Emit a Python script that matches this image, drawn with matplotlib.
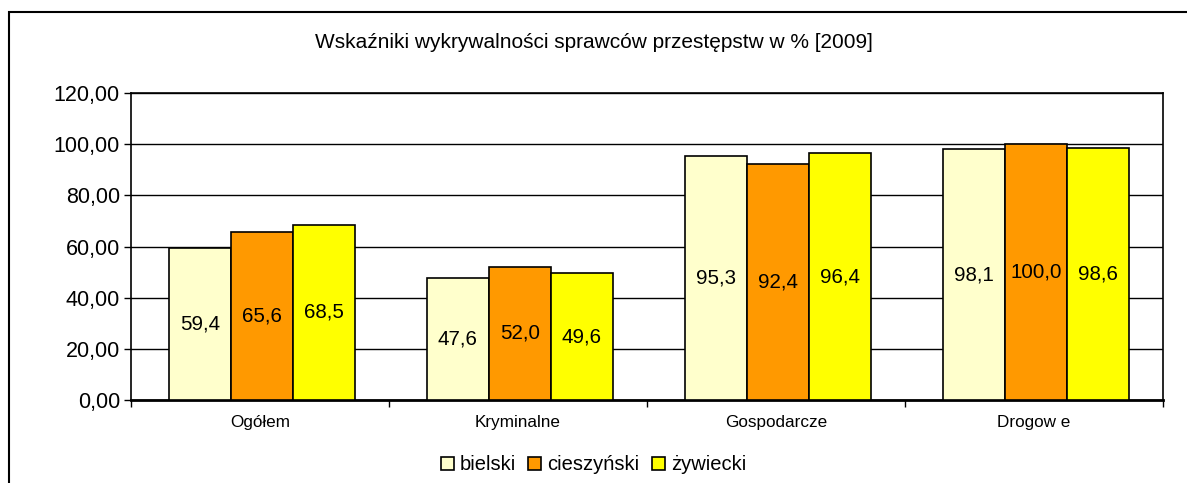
import matplotlib
matplotlib.use("Agg")
import matplotlib.pyplot as plt
import numpy as np
from matplotlib.patches import Rectangle

plt.rcParams['font.family'] = ['Liberation Sans', 'DejaVu Sans']

categories = ["Ogółem", "Kryminalne", "Gospodarcze", "Drogow e"]
series_names = ["bielski", "cieszyński", "żywiecki"]
bielski = [59.4, 47.6, 95.3, 98.1]
cieszynski = [65.6, 52.0, 92.4, 100.0]
zywiecki = [68.5, 49.6, 96.4, 98.6]
colors = ["#FFFFCC", "#FF9900", "#FFFF00"]
yticks = [0, 20, 40, 60, 80, 100, 120]
title = "Wskaźniki wykrywalności sprawców przestępstw w % [2009]"

W, H = 1187, 483
fig = plt.figure(figsize=(W/100, H/100), dpi=100)
# outer frame
fig.patches.append(Rectangle((9.5/W, -0.1), 1.2, 1 - 11.5/H + 0.1, transform=fig.transFigure,
                             fill=False, edgecolor='black', linewidth=1.5, zorder=0))

ax = fig.add_axes([131/W, 1 - 400/H, (1163-131)/W, (400-93)/H])
x = np.arange(len(categories))
bw = 0.24
data = [bielski, cieszynski, zywiecki]
for i, (vals, c, name) in enumerate(zip(data, colors, series_names)):
    pos = x + (i - 1) * bw + 0.007
    bars = ax.bar(pos, vals, bw, color=c, edgecolor='black', linewidth=1.2, label=name, zorder=3)
    for b, v in zip(bars, vals):
        ax.text(b.get_x() + b.get_width()/2, v/2, f"{v:.1f}".replace('.', ','),
                ha='center', va='center', fontsize=14.8, zorder=4)

ax.set_xlim(-0.5, len(categories) - 0.5)
ax.set_ylim(0, 120)
ax.set_yticks(yticks)
ax.set_yticklabels([f"{t:.2f}".replace('.', ',') for t in yticks], fontsize=15.5)
ax.set_xticks(np.arange(len(categories) + 1) - 0.5)
ax.set_xticklabels([])
ax.set_xticks(x, minor=True)
ax.set_xticklabels(categories, minor=True, fontsize=12.3)
ax.tick_params(axis='x', which='minor', length=0, pad=11)
ax.tick_params(axis='x', which='major', length=5, width=1, direction='out')
ax.tick_params(axis='y', length=5, width=1, direction='out', pad=3)
ax.grid(axis='y', color='black', linewidth=1, zorder=0)
ax.set_axisbelow(True)
for s in ax.spines.values():
    s.set_linewidth(1.2)
ax.spines['bottom'].set_linewidth(2)

fig.text(0.5, 1 - 43/H, title, ha='center', va='center', fontsize=15)

handles, labels = ax.get_legend_handles_labels()
leg = fig.legend(handles, labels, loc='center', bbox_to_anchor=(0.5, 1 - 465/H), ncol=3,
                 frameon=False, fontsize=14.5, handlelength=0.65, handleheight=0.65,
                 handletextpad=0.3, columnspacing=0.6)
for p in leg.get_patches():
    p.set_linewidth(1.2)

fig.savefig("out.png", dpi=100)
